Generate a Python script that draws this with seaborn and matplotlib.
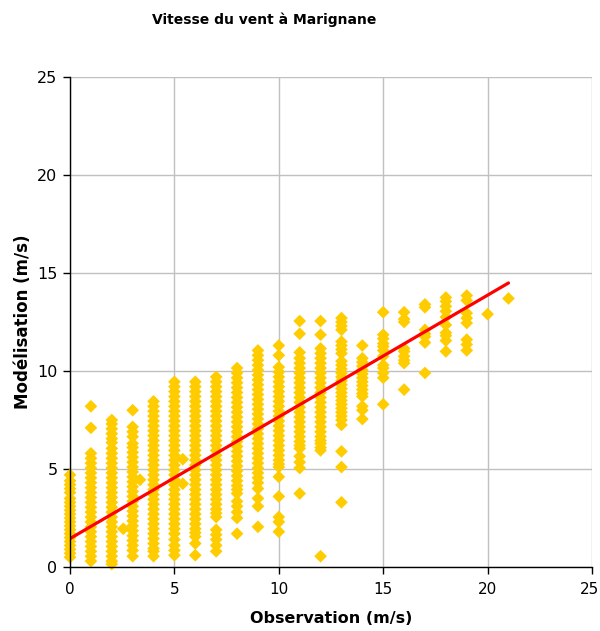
import matplotlib
matplotlib.use("Agg")
import matplotlib.pyplot as plt
import matplotlib.transforms as mtransforms
import numpy as np
import pandas as pd
import seaborn as sns

# Modelled wind speed (m/s) grouped by observed wind speed (m/s)
mod_obs_0 = [4.7, 4.4, 4.2, 4.0, 3.8, 3.5, 3.3, 3.1, 2.9, 2.7, 2.5, 2.3, 2.1,
             1.9, 1.7, 1.5, 1.3, 1.1, 0.9, 0.7, 0.5]
mod_obs_1 = [8.2, 7.1, 5.8, 5.55, 5.3, 5.05, 4.8, 4.55, 4.3, 4.05, 3.8, 3.55,
             3.3, 3.05, 2.8, 2.55, 2.3, 2.05, 1.8, 1.55, 1.3, 1.05, 0.8, 0.55, 0.3]
mod_obs_2 = [7.5, 7.3, 7.05, 6.8, 6.55, 6.35, 6.05, 5.8, 5.55, 5.3, 5.05, 4.8,
             4.55, 4.3, 4.05, 3.8, 3.55, 3.3, 3.05, 2.8, 2.55, 2.3, 2.05, 1.8,
             1.55, 1.3, 1.05, 0.8, 0.55, 0.3, 0.15]
mod_obs_3 = [8.0, 7.15, 6.9, 6.65, 6.3, 6.1, 5.85, 5.6, 5.35, 5.1, 4.85, 4.6,
             4.35, 4.1, 3.85, 3.6, 3.35, 3.1, 2.85, 2.6, 2.35, 2.1, 1.85, 1.6,
             1.35, 1.1, 0.85, 0.55]
mod_obs_4 = [8.45, 8.2, 7.95, 7.7, 7.45, 7.2, 6.95, 6.7, 6.45, 6.2, 5.95, 5.7,
             5.45, 5.2, 4.95, 4.7, 4.45, 4.2, 3.95, 3.7, 3.45, 3.2, 2.95, 2.7,
             2.45, 2.2, 1.95, 1.7, 1.45, 1.2, 0.95, 0.8, 0.55]
mod_obs_5 = [9.45, 9.2, 8.95, 8.7, 8.45, 8.2, 7.95, 7.7, 7.45, 7.2, 6.95, 6.7,
             6.45, 6.2, 5.95, 5.7, 5.45, 5.2, 4.95, 4.7, 4.45, 4.2, 3.95, 3.7,
             3.45, 3.2, 2.95, 2.7, 2.45, 2.2, 1.95, 1.7, 1.4, 1.1, 0.85, 0.6]
mod_obs_6 = [9.45, 9.2, 8.95, 8.7, 8.45, 8.2, 7.95, 7.7, 7.45, 7.2, 6.95, 6.7,
             6.45, 6.2, 5.95, 5.7, 5.45, 5.2, 4.95, 4.7, 4.45, 4.2, 3.95, 3.7,
             3.45, 3.2, 2.95, 2.7, 2.45, 2.2, 1.95, 1.75, 1.55, 1.2, 0.6]
mod_obs_7 = [9.7, 9.45, 9.2, 8.95, 8.7, 8.45, 8.2, 7.95, 7.7, 7.45, 7.2, 6.95,
             6.7, 6.45, 6.2, 5.95, 5.7, 5.45, 5.2, 4.95, 4.7, 4.45, 4.2, 3.95,
             3.7, 3.45, 3.2, 2.95, 2.75, 2.55, 1.9, 1.65, 1.4, 1.1, 0.8]
mod_obs_8 = [10.15, 9.9, 9.65, 9.4, 9.15, 8.9, 8.65, 8.4, 8.15, 7.9, 7.65, 7.4,
             7.15, 6.9, 6.65, 6.4, 6.15, 5.9, 5.65, 5.4, 5.15, 4.9, 4.65, 4.4,
             4.15, 3.95, 3.75, 3.35, 3.1, 2.8, 2.5, 1.7]
mod_obs_9 = [11.05, 10.8, 10.55, 10.3, 10.05, 9.8, 9.55, 9.3, 9.05, 8.8, 8.55,
             8.3, 8.05, 7.8, 7.55, 7.3, 7.05, 6.8, 6.55, 6.3, 6.05, 5.8, 5.55,
             5.3, 5.05, 4.8, 4.55, 4.3, 4.0, 3.5, 3.1, 2.05]
mod_obs_10 = [11.3, 10.8, 10.2, 9.95, 9.7, 9.45, 9.2, 8.95, 8.7, 8.45, 8.2,
              7.95, 7.7, 7.45, 7.2, 6.95, 6.7, 6.45, 6.2, 5.95, 5.7, 5.45, 5.25,
              5.1, 4.6, 3.6, 2.55, 2.3, 1.8]
mod_obs_11 = [12.55, 11.9, 10.95, 10.65, 10.4, 10.15, 9.9, 9.65, 9.4, 9.15,
              8.9, 8.65, 8.4, 8.15, 7.9, 7.65, 7.4, 7.15, 6.9, 6.65, 6.4, 6.2,
              6.05, 5.65, 5.35, 5.05, 3.75]
mod_obs_12 = [12.55, 11.85, 11.15, 10.9, 10.65, 10.4, 10.15, 9.9, 9.65, 9.4,
              9.15, 8.9, 8.65, 8.4, 8.15, 7.9, 7.65, 7.4, 7.15, 6.9, 6.65, 6.45,
              6.3, 6.1, 5.95, 0.55]
mod_obs_13 = [12.7, 12.5, 12.3, 12.1, 11.5, 11.3, 11.1, 10.9, 10.5, 10.3, 10.1,
              9.9, 9.7, 9.5, 9.3, 9.1, 8.9, 8.7, 8.5, 8.3, 8.1, 7.9, 7.7, 7.5,
              7.25, 5.9, 5.1, 3.3]
mod_obs_14 = [11.3, 10.65, 10.45, 10.25, 10.05, 9.85, 9.65, 9.45, 9.25, 9.05,
              8.85, 8.7, 8.2, 8.0, 7.55]
mod_obs_15 = [13.0, 11.85, 11.65, 11.4, 11.25, 11.05, 10.75, 10.3, 10.15, 9.9,
              9.65, 8.3]
mod_obs_16 = [13.0, 12.65, 12.5, 11.15, 11.0, 10.75, 10.55, 10.4, 9.05]
mod_obs_17 = [13.4, 13.25, 12.1, 11.9, 11.75, 11.45, 9.9]
mod_obs_18 = [13.75, 13.55, 13.3, 13.05, 12.75, 12.35, 11.95, 11.8, 11.55, 11.0]
mod_obs_19 = [13.85, 13.6, 12.95, 12.7, 12.45, 11.6, 11.35, 11.05]
mod_obs_20 = [12.9]
mod_obs_21 = [13.7]

# A few records with non-integer observed speed
obs_offgrid = [2.55, 3.35, 5.4, 5.4]
mod_offgrid = [1.95, 4.45, 5.5, 4.25]

# Linear trend line: modelled = slope * observed + intercept
trend_slope = 0.621
trend_intercept = 1.45
trend_x_range = [0, 21]

columns = [mod_obs_0, mod_obs_1, mod_obs_2, mod_obs_3, mod_obs_4, mod_obs_5,
           mod_obs_6, mod_obs_7, mod_obs_8, mod_obs_9, mod_obs_10, mod_obs_11,
           mod_obs_12, mod_obs_13, mod_obs_14, mod_obs_15, mod_obs_16,
           mod_obs_17, mod_obs_18, mod_obs_19, mod_obs_20, mod_obs_21]

obs_vals, mod_vals = [], []
for speed, values in enumerate(columns):
    obs_vals.extend([speed] * len(values))
    mod_vals.extend(values)
obs_vals.extend(obs_offgrid)
mod_vals.extend(mod_offgrid)
df = pd.DataFrame({"Observation": obs_vals, "Modelisation": mod_vals})

trend = pd.DataFrame({"x": trend_x_range})
trend["y"] = trend_slope * trend["x"] + trend_intercept

sns.set_style("white")
plt.rcParams["font.family"] = ["DejaVu Sans"]
plt.rcParams["text.color"] = "black"
plt.rcParams["axes.labelcolor"] = "black"

fig = plt.figure(figsize=(6.0, 6.31), dpi=100)
ax = fig.add_axes([0.1167, 0.1014, 0.87, 0.7766])

sns.scatterplot(data=df, x="Observation", y="Modelisation", ax=ax,
                marker="D", s=42, color="#FFCC00", edgecolor="none",
                linewidth=0, zorder=3, clip_on=False)
sns.lineplot(data=trend, x="x", y="y", ax=ax, color="#FF0000",
             linewidth=2.3, zorder=4)

ax.set_xlim(0, 25)
ax.set_ylim(0, 25)
ticks = [0, 5, 10, 15, 20, 25]
ax.set_xticks(ticks)
ax.set_yticks(ticks)
ax.grid(True, color="#C0C0C0", linewidth=1.0, zorder=0)
ax.set_axisbelow(True)

for side in ["top", "right"]:
    ax.spines[side].set_visible(False)
for side in ["left", "bottom"]:
    ax.spines[side].set_color("black")
    ax.spines[side].set_linewidth(1.0)
    ax.spines[side].set_zorder(5)

ax.tick_params(axis="both", direction="out", length=5, width=1.0,
               color="black", labelcolor="black", bottom=True, left=True)
ax.tick_params(axis="x", pad=6, labelsize=11)
ax.tick_params(axis="y", pad=4, labelsize=11.5)

# keep the right-most x tick label inside the figure edge
last_label = ax.get_xticklabels()[-1]
last_label.set_transform(last_label.get_transform() +
                         mtransforms.ScaledTranslation(-3 / 100, 0,
                                                       fig.dpi_scale_trans))

ax.set_xlabel("Observation (m/s)", fontsize=11.5, fontweight="bold",
              labelpad=10, color="black")
ax.set_ylabel("Modélisation (m/s)", fontsize=12, fontweight="bold",
              labelpad=4, color="black")
fig.suptitle("Vitesse du vent à Marignane", x=0.44, y=0.98,
             fontsize=10, fontweight="bold", color="black")

fig.savefig("out.png", dpi=100)
